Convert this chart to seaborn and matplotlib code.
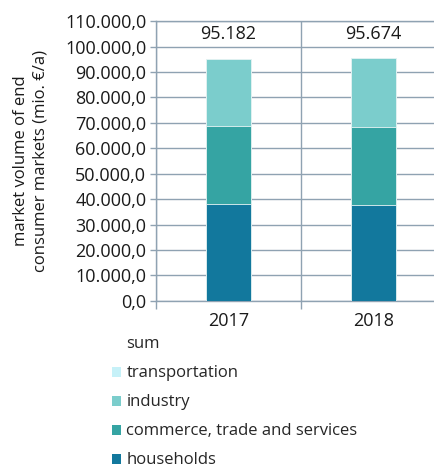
import matplotlib
matplotlib.use("Agg")
import matplotlib.pyplot as plt
from matplotlib.patches import Patch
from matplotlib.ticker import FuncFormatter, FixedLocator
import seaborn as sns
import pandas as pd
import numpy as np

years = ["2017", "2018"]
households = [38200, 37800]
commerce = [30600, 30400]
industry = [26300, 27400]
transportation = [82, 74]
sums = ["95.182", "95.674"]

series_names = ["households", "commerce, trade and services", "industry", "transportation"]
colors = ["#12789d", "#35a4a3", "#7bcdcc", "#c6f1f8"]
y_ticks = list(range(0, 110001, 10000))

sns.set_theme(style="white")
plt.rcParams["font.family"] = ["Open Sans", "DejaVu Sans"]

fig = plt.figure(figsize=(4.35, 4.68), dpi=100)
ax = fig.add_axes([0.3586, 0.357, 0.6667, 0.598])

values = [households, commerce, industry, transportation]
cum = np.cumsum(np.array(values), axis=0)
# draw from tallest cumulative to smallest so segments stack
for i in range(len(values) - 1, -1, -1):
    df = pd.DataFrame({"year": years, "value": cum[i]})
    sns.barplot(data=df, x="year", y="value", color=colors[i], width=0.31,
                ax=ax, edgecolor="#e8f4f4", linewidth=0.6, saturation=1, zorder=3)

grid_c = "#8fa2b2"
ax.set_ylim(0, 110000)
ax.set_xlim(-0.5, 1.5)
ax.yaxis.set_major_locator(FixedLocator(y_ticks))
ax.yaxis.set_major_formatter(FuncFormatter(lambda v, p: f"{int(v):,}".replace(",", ".") + ",0"))
ax.set_xticks([0, 1])
ax.set_xticklabels(years)
ax.set_xticks([-0.5, 0.5, 1.5], minor=True)
ax.tick_params(axis="x", which="major", length=0, pad=8, labelsize=13, colors="#1a1a1a")
ax.tick_params(axis="x", which="minor", length=6, width=1, color=grid_c, direction="out", bottom=True)
ax.tick_params(axis="y", which="major", length=4, width=1, color=grid_c, direction="out", left=True,
               labelsize=13, pad=3, colors="#1a1a1a")
ax.grid(axis="y", which="major", color=grid_c, linewidth=1, zorder=0)
ax.grid(axis="x", which="minor", color=grid_c, linewidth=1, zorder=0)
ax.grid(axis="x", which="major", visible=False)
for s in ["left", "bottom", "top"]:
    ax.spines[s].set_visible(True)
    ax.spines[s].set_color(grid_c)
    ax.spines[s].set_linewidth(1)
ax.spines["right"].set_visible(False)
ax.set_xlabel("")
ax.set_ylabel("market volume of end\nconsumer markets (mio. €/a)", fontsize=12, color="#1a1a1a",
              labelpad=12, linespacing=1.25)

for i, s in enumerate(sums):
    ax.text(i, 105000, s, ha="center", va="center", fontsize=13, color="#1a1a1a", zorder=4)

handles = [Patch(facecolor="none", edgecolor="none")] + [
    Patch(facecolor=colors[i], edgecolor="none") for i in range(3, -1, -1)]
labels = ["sum"] + [series_names[i] for i in range(3, -1, -1)]
fig.legend(handles, labels, loc="upper left", bbox_to_anchor=(0.258, 0.281), frameon=False,
           fontsize=12, handlelength=0.55, handleheight=0.55, handletextpad=0.3,
           labelspacing=0.78, borderaxespad=0, borderpad=0)

fig.savefig("out.png", dpi=100)
